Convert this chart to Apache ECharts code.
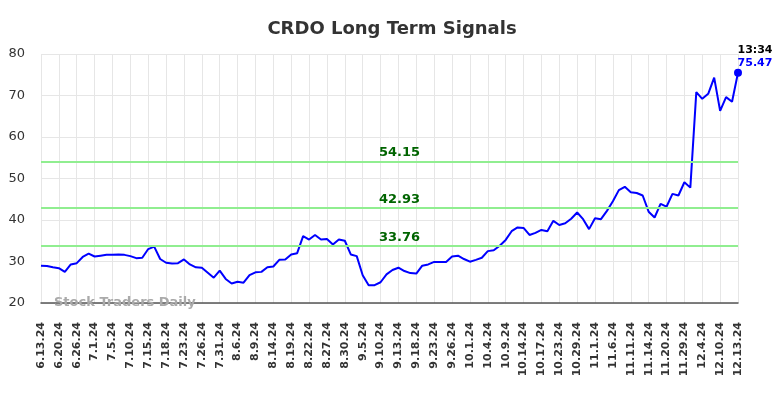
<!DOCTYPE html>
<html>
<head>
    <meta charset="UTF-8">
    <title>CRDO Long Term Signals</title>
    <script src="https://cdn.jsdelivr.net/npm/echarts@6/dist/echarts.min.js"></script>
</head>
<body style="margin:0;">
<div id="chart" style="width:784px;height:398px;"></div>
<script type="text/javascript">

    // trading dates (every 3rd one is shown as a tick label)
    var dates = [
        '6.13.24', '6.14.24', '6.17.24', '6.20.24', '6.21.24', '6.24.24', '6.26.24', '6.27.24', '6.28.24', '7.1.24',
        '7.2.24', '7.3.24', '7.5.24', '7.8.24', '7.9.24', '7.10.24', '7.11.24', '7.12.24', '7.15.24', '7.16.24',
        '7.17.24', '7.18.24', '7.19.24', '7.22.24', '7.23.24', '7.24.24', '7.25.24', '7.26.24', '7.29.24', '7.30.24',
        '7.31.24', '8.1.24', '8.2.24', '8.6.24', '8.7.24', '8.8.24', '8.9.24', '8.12.24', '8.13.24', '8.14.24',
        '8.15.24', '8.16.24', '8.19.24', '8.20.24', '8.21.24', '8.22.24', '8.23.24', '8.26.24', '8.27.24', '8.28.24',
        '8.29.24', '8.30.24', '9.3.24', '9.4.24', '9.5.24', '9.6.24', '9.9.24', '9.10.24', '9.11.24', '9.12.24',
        '9.13.24', '9.16.24', '9.17.24', '9.18.24', '9.19.24', '9.20.24', '9.23.24', '9.24.24', '9.25.24', '9.26.24',
        '9.27.24', '9.30.24', '10.1.24', '10.2.24', '10.3.24', '10.4.24', '10.7.24', '10.8.24', '10.9.24', '10.10.24',
        '10.11.24', '10.14.24', '10.15.24', '10.16.24', '10.17.24', '10.18.24', '10.21.24', '10.23.24', '10.24.24', '10.25.24',
        '10.29.24', '10.30.24', '10.31.24', '11.1.24', '11.4.24', '11.5.24', '11.6.24', '11.7.24', '11.8.24', '11.11.24',
        '11.12.24', '11.13.24', '11.14.24', '11.15.24', '11.18.24', '11.20.24', '11.22.24', '11.26.24', '11.29.24', '12.2.24',
        '12.3.24', '12.4.24', '12.5.24', '12.9.24', '12.10.24', '12.11.24', '12.12.24', '12.13.24'
    ];

    var prices = [
        29.0, 28.9, 28.6, 28.4, 27.5, 29.3, 29.6, 31.1, 31.9, 31.2,
        31.4, 31.6, 31.6, 31.7, 31.6, 31.3, 30.8, 30.9, 33.0, 33.6,
        30.6, 29.7, 29.5, 29.6, 30.5, 29.3, 28.6, 28.5, 27.3, 26.1,
        27.8, 25.8, 24.7, 25.1, 24.9, 26.7, 27.4, 27.5, 28.6, 28.8,
        30.4, 30.5, 31.7, 32.0, 36.1, 35.3, 36.4, 35.3, 35.4, 34.1,
        35.3, 35.0, 31.7, 31.3, 26.7, 24.3, 24.3, 25.0, 26.9, 27.95,
        28.5, 27.7, 27.2, 27.1, 29.0, 29.3, 29.9, 29.9, 29.9, 31.2,
        31.4, 30.6, 29.95, 30.4, 30.9, 32.5, 32.7, 33.8, 35.2, 37.3,
        38.2, 38.1, 36.4, 36.9, 37.6, 37.3, 39.8, 38.8, 39.2, 40.3,
        41.8, 40.2, 37.8, 40.4, 40.2, 42.2, 44.5, 47.2, 48.0, 46.7,
        46.5, 45.9, 42.0, 40.6, 43.9, 43.2, 46.3, 45.9, 49.1, 47.8,
        70.8, 69.2, 70.4, 74.3, 66.3, 69.6, 68.5, 75.47
    ];

    var signals = [54.15, 42.93, 33.76];
    var lastTime = '13:34';

    var font = 'DejaVu Sans';
    var last = prices.length - 1;

    var myChart = echarts.init(document.getElementById('chart'));
    myChart.setOption({
        animation: false,
        title: {
            text: 'CRDO Long Term Signals',
            left: 'center',
            top: 15,
            textStyle: {fontFamily: font, fontSize: 18, fontWeight: 'bold', color: '#333'}
        },
        grid: {left: 41, right: 46, top: 54, bottom: 95},
        xAxis: {
            type: 'category',
            data: dates,
            boundaryGap: false,
            axisLine: {lineStyle: {color: '#555', width: 1.5}},
            axisTick: {show: false},
            axisLabel: {
                interval: 2,
                rotate: 90,
                margin: 19,
                fontFamily: font,
                fontSize: 11,
                fontWeight: 'bold',
                color: '#333'
            },
            splitLine: {show: true, interval: 2, lineStyle: {color: '#e6e6e6'}}
        },
        yAxis: {
            type: 'value',
            min: 20,
            max: 80,
            interval: 10,
            axisLine: {show: false},
            axisTick: {show: false},
            axisLabel: {margin: 16, fontFamily: font, fontSize: 13, color: '#333'},
            splitLine: {lineStyle: {color: '#e6e6e6'}}
        },
        graphic: [{
            type: 'text',
            left: 54,
            top: 296,
            z: 10,
            style: {text: 'Stock Traders Daily', fill: '#aaa', font: 'bold 13px "DejaVu Sans"'}
        }],
        series: [{
            type: 'line',
            data: prices,
            showSymbol: false,
            lineStyle: {color: '#0000ff', width: 2},
            itemStyle: {color: '#0000ff'},
            markLine: {
                silent: true,
                symbol: 'none',
                lineStyle: {color: '#90ee90', width: 2, type: 'solid'},
                label: {
                    position: 'insideMiddleTop',
                    offset: [10, 3],
                    formatter: function (p) { return p.value.toFixed(2); },
                    fontFamily: font,
                    fontSize: 13,
                    fontWeight: 'bold',
                    color: '#006400'
                },
                data: signals.map(function (s) { return {yAxis: s}; })
            },
            markPoint: {
                symbol: 'circle',
                symbolSize: 8,
                itemStyle: {color: '#0000ff'},
                label: {
                    position: 'top',
                    offset: [17, 6],
                    formatter: '{t|' + lastTime + '}\n{v|' + prices[last].toFixed(2) + '}',
                    rich: {
                        t: {fontFamily: font, fontSize: 11, fontWeight: 'bold', color: '#000', lineHeight: 13},
                        v: {fontFamily: font, fontSize: 11, fontWeight: 'bold', color: '#0000ff', lineHeight: 13}
                    }
                },
                data: [{coord: [dates[last], prices[last]]}]
            }
        }]
    });
</script>
</body>
</html>
